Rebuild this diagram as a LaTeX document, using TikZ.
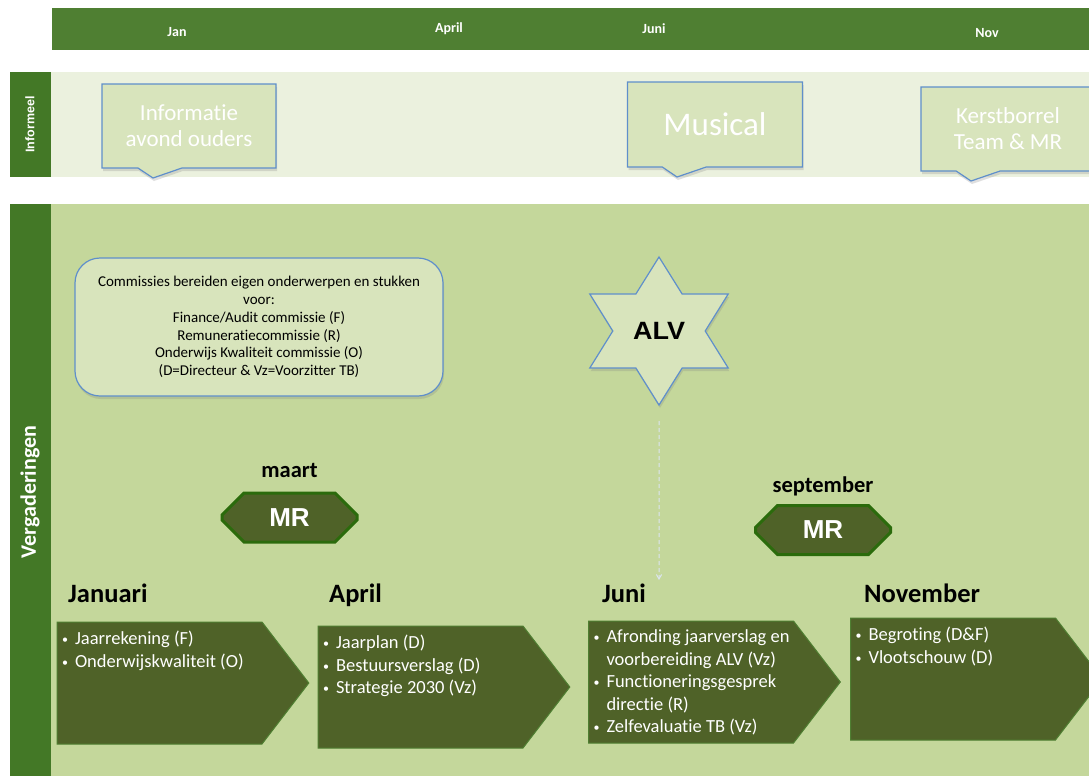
\documentclass[tikz,border=0pt]{standalone}
\usepackage{fontspec}
\setmainfont{Carlito}[Ligatures=NoCommon]
\newfontfamily\arialfont{Liberation Sans}
\usetikzlibrary{arrows,positioning,shapes.geometric,shapes.misc,shapes.symbols,shapes.callouts,shadows}

\definecolor{barGreen}{HTML}{4F7F32}
\definecolor{sideGreen}{HTML}{437826}
\definecolor{paleBand}{HTML}{EBF1DE}
\definecolor{meetBand}{HTML}{C4D79B}
\definecolor{boxFill}{HTML}{D8E4BC}
\definecolor{boxLine}{HTML}{5F8FCB}
\definecolor{oliveFill}{HTML}{4F6228}
\definecolor{mrLine}{HTML}{2B6B0C}
\definecolor{arrowLine}{HTML}{DCE5F0}

\newcommand{\bul}[1]{\hangindent=13pt\hangafter=1\noindent\makebox[13pt][l]{\raisebox{1pt}{\fontsize{12}{12}\selectfont\textbullet}}#1\par}
\newcommand{\chevtext}[1]{\parbox[c][122pt][t]{205pt}{\leftskip=5pt\fontsize{18.5}{22.5}\selectfont\vspace*{9pt}#1}}

\tikzset{
  monthtag/.style={text=white,font=\bfseries\fontsize{14}{16}\selectfont},
  sidetag/.style={text=white,rotate=90},
  infocallout/.style={rectangle callout,fill=boxFill,draw=boxLine,line width=1.2pt,
    text=white,align=center,minimum width=174pt,minimum height=84pt,
    callout pointer width=44pt,drop shadow={opacity=0.25,shadow xshift=1pt,shadow yshift=-3pt}},
  infobox/.style={rectangle,rounded corners=25pt,fill=boxFill,draw=boxLine,line width=1.2pt,
    align=center,minimum width=368pt,minimum height=138pt,
    font=\fontsize{15}{17.8}\selectfont,
    drop shadow={opacity=0.25,shadow xshift=1pt,shadow yshift=-3pt}},
  alvstar/.style={star,star points=6,star point ratio=1.73,minimum size=148pt,inner sep=0pt,
    fill=boxFill,draw=boxLine,line width=1.2pt,font=\arialfont\bfseries\fontsize{25}{28}\selectfont,
    drop shadow={opacity=0.25,shadow xshift=1pt,shadow yshift=-3pt}},
  alvarrow/.style={draw=arrowLine,line width=1pt,dash pattern=on 4pt off 3pt,-angle 60},
  mrbox/.style={chamfered rectangle,chamfered rectangle xsep=13pt,chamfered rectangle ysep=13pt,
    minimum width=135pt,minimum height=49pt,inner sep=0pt,fill=oliveFill,draw=mrLine,line width=3pt,
    text=white,font=\arialfont\bfseries\fontsize{26}{28}\selectfont},
  mrlabel/.style={inner sep=0pt,font=\bfseries\fontsize{22.5}{24}\selectfont},
  monthhead/.style={anchor=base west,inner sep=0pt,font=\bfseries\fontsize{26.5}{30}\selectfont},
  chevron/.style={signal,signal to=east,signal pointer angle=105,inner sep=0pt,
    fill=oliveFill,draw=barGreen,line width=1pt,text=white}
}

\begin{document}
\begin{tikzpicture}[x=1pt,y=-1pt]
  \clip (0,0) rectangle (1089,776);
  \fill[white] (0,0) rectangle (1089,776);

  \fill[barGreen] (52,8) rectangle (1089,50);
  \fill[paleBand] (51,72) rectangle (1089,177);
  \fill[sideGreen] (10,72) rectangle (51,177);
  \fill[meetBand] (51,204) rectangle (1089,776);
  \fill[sideGreen] (10,204) rectangle (51,776);

  \node[monthtag] (tag-jan) at (177,32) {Jan};
  \node[monthtag] (tag-april) at (449,29) {April};
  \node[monthtag] (tag-juni) at (654,29) {Juni};
  \node[monthtag] (tag-nov) at (987,33) {Nov};

  \node[sidetag,font=\arialfont\bfseries\fontsize{12.5}{14}\selectfont] (informeel) at (30,124.5) {Informeel};
  \node[sidetag,font=\bfseries\fontsize{22}{24}\selectfont] (vergaderingen) at (30,492) {Vergaderingen};

  \node[infocallout,callout absolute pointer={(153,178)},font=\fontsize{23}{26}\selectfont]
    (ouders) at (189,126) {Informatie\\avond ouders};
  \node[infocallout,callout absolute pointer={(677,177)},minimum width=175pt,minimum height=85pt,
    font=\fontsize{33}{36}\selectfont] (musical) at (715,124.5) {Musical};
  \node[infocallout,callout absolute pointer={(971,181)},font=\fontsize{23}{26}\selectfont]
    (kerstborrel) at (1008,129) {Kerstborrel\\Team \& MR};

  \node[infobox] (commissies) at (259,327) {Commissies bereiden eigen onderwerpen en stukken\\voor:\\
    Finance/Audit commissie (F)\\Remuneratiecommissie (R)\\Onderwijs Kwaliteit commissie (O)\\
    (D=Directeur \& Vz=Voorzitter TB)};

  \node[alvstar,xscale=1.08] (alv) at (659,331) {ALV};
  \coordinate (juni-arrow) at (659,580);
  \draw[alvarrow,shorten <=15pt] (alv.south) -- (juni-arrow);

  \node[mrbox] (mr-maart) at (289.5,517.5) {MR};
  \node[mrlabel,above=14pt of mr-maart] (maart) {maart};
  \node[mrbox] (mr-sept) at (823,530) {MR};
  \node[mrlabel,above=8pt of mr-sept] (september) {september};

  \node[monthhead] (januari) at (68,602) {Januari};
  \node[monthhead] (april) at (329,602) {April};
  \node[monthhead] (juni) at (602,602) {Juni};
  \node[monthhead] (november) at (864,602) {November};

  \node[chevron] (jan-box) at (159.5,683) {\chevtext{\bul{Jaarrekening (F)}\bul{Onderwijskwaliteit (O)}}};
  \node[chevron] (april-box) at (420.5,687) {\chevtext{\bul{Jaarplan (D)}\bul{Bestuursverslag (D)}\bul{Strategie 2030 (Vz)}}};
  \node[chevron] (juni-box) at (691,682) {\chevtext{\bul{Afronding jaarverslag en\\voorbereiding ALV (Vz)}%
    \bul{Functioneringsgesprek\\directie (R)}\bul{Zelfevaluatie TB (Vz)}}};
  \node[chevron] (nov-box) at (953,679) {\chevtext{\bul{Begroting (D\&F)}\bul{Vlootschouw (D)}}};
\end{tikzpicture}
\end{document}
